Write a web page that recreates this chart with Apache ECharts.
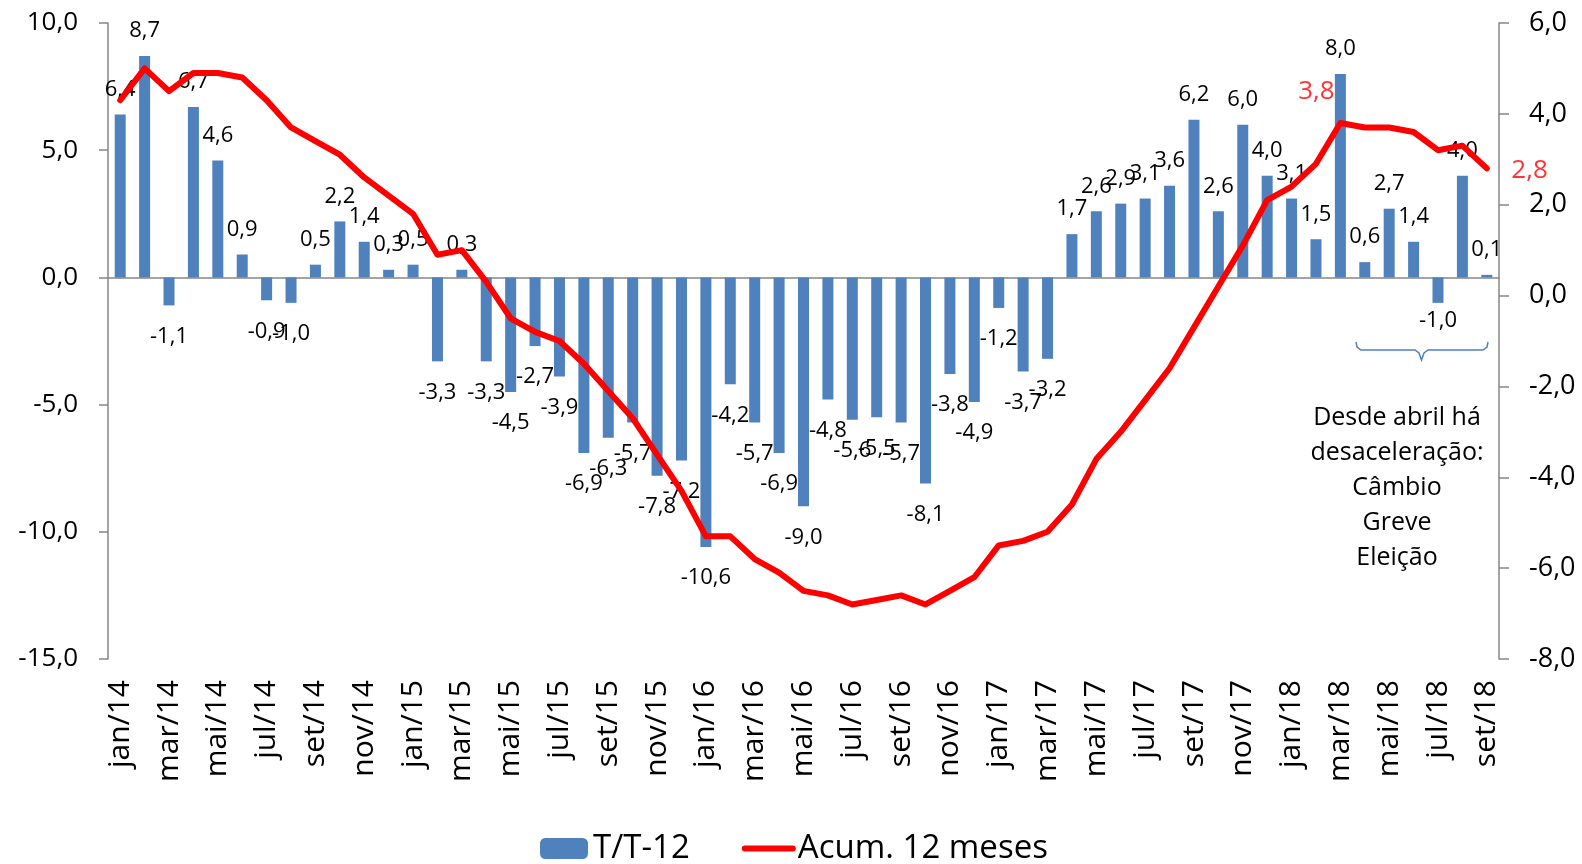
<!DOCTYPE html>
<html>
<head>
<meta charset="utf-8">
<title>T/T-12 e Acum. 12 meses</title>
<script src="https://cdn.jsdelivr.net/npm/echarts@6/dist/echarts.min.js"></script>
<style>
  html, body { margin: 0; padding: 0; background: #fff; }
  #chart { width: 1582px; height: 864px; }
</style>
</head>
<body>
<div id="chart"></div>
<script>
// --- dados ---
const meses = [
  'jan/14', 'fev/14', 'mar/14', 'abr/14', 'mai/14', 'jun/14', 'jul/14', 'ago/14', 'set/14', 'out/14', 'nov/14', 'dez/14',
  'jan/15', 'fev/15', 'mar/15', 'abr/15', 'mai/15', 'jun/15', 'jul/15', 'ago/15', 'set/15', 'out/15', 'nov/15', 'dez/15',
  'jan/16', 'fev/16', 'mar/16', 'abr/16', 'mai/16', 'jun/16', 'jul/16', 'ago/16', 'set/16', 'out/16', 'nov/16', 'dez/16',
  'jan/17', 'fev/17', 'mar/17', 'abr/17', 'mai/17', 'jun/17', 'jul/17', 'ago/17', 'set/17', 'out/17', 'nov/17', 'dez/17',
  'jan/18', 'fev/18', 'mar/18', 'abr/18', 'mai/18', 'jun/18', 'jul/18', 'ago/18', 'set/18'
]

// variação contra o mesmo mês do ano anterior (barras, eixo esquerdo)
const tt12 = [
  6.4, 8.7, -1.1, 6.7, 4.6, 0.9, -0.9, -1.0, 0.5, 2.2, 1.4, 0.3,
  0.5, -3.3, 0.3, -3.3, -4.5, -2.7, -3.9, -6.9, -6.3, -5.7, -7.8, -7.2,
  -10.6, -4.2, -5.7, -6.9, -9.0, -4.8, -5.6, -5.5, -5.7, -8.1, -3.8, -4.9,
  -1.2, -3.7, -3.2, 1.7, 2.6, 2.9, 3.1, 3.6, 6.2, 2.6, 6.0, 4.0,
  3.1, 1.5, 8.0, 0.6, 2.7, 1.4, -1.0, 4.0, 0.1
]

// acumulado em 12 meses (linha, eixo direito)
const acum12 = [
  4.3, 5.0, 4.5, 4.9, 4.9, 4.8, 4.3, 3.7, 3.4, 3.1, 2.6, 2.2,
  1.8, 0.9, 1.0, 0.3, -0.5, -0.8, -1.0, -1.5, -2.1, -2.7, -3.5, -4.3,
  -5.3, -5.3, -5.8, -6.1, -6.5, -6.6, -6.8, -6.7, -6.6, -6.8, -6.5, -6.2,
  -5.5, -5.4, -5.2, -4.6, -3.6, -3.0, -2.3, -1.6, -0.7, 0.2, 1.1, 2.1,
  2.4, 2.9, 3.8, 3.7, 3.7, 3.6, 3.2, 3.3, 2.8
]

// pontos da linha que recebem rótulo vermelho
const rotulosAcum = ['mar/18', 'set/18']

const notaTexto = ['Desde abril há', 'desaceleração:', 'Câmbio', 'Greve', 'Eleição']

const FONT = '"Open Sans", "Noto Sans", sans-serif'
const AZUL = '#4f81bd'
const CINZA = '#868686'

const fmt = (v) => v.toFixed(1).replace('.', ',')

const chart = echarts.init(document.getElementById('chart'))

// positivos com rótulo acima, negativos abaixo
// (jul/18 fica mais perto da barra para não cobrir a chave)
const barData = tt12.map((v, i) => ({
  value: v,
  label: v >= 0
    ? { position: 'top', distance: 14 }
    : { position: 'bottom', distance: meses[i] === 'jul/18' ? 7 : 20 }
}))

const labelData = acum12.map((v, i) => {
  const idx = rotulosAcum.indexOf(meses[i])
  if (idx < 0) return '-'
  // primeiro rótulo acima/esquerda, último à direita
  return idx === 0
    ? { value: v, label: { position: 'top', distance: 18, offset: [-24, 0] } }
    : { value: v, label: { position: 'right', distance: 24, offset: [0, 2] } }
})

chart.setOption({
  animation: false,
  textStyle: { fontFamily: FONT },
  grid: { left: 108, right: 83, top: 23, bottom: 205, containLabel: false },
  legend: {
    data: [
      { name: 'T/T-12' },
      // sem o círculo no ícone da linha
      {
        name: 'Acum. 12 meses',
        itemStyle: { opacity: 0 },
        lineStyle: { width: 6, cap: 'round', color: '#ff0000' }
      }
    ],
    left: 535,
    top: 827,
    itemWidth: 48,
    itemHeight: 21,
    itemGap: 52,
    textStyle: { fontSize: 33, color: '#000', fontFamily: FONT }
  },
  xAxis: [
    {
      // linha do eixo no zero com marcas a cada 2 meses
      type: 'category',
      data: meses,
      axisLine: { onZero: true, onZeroAxisIndex: 0, lineStyle: { color: CINZA, width: 1.5 } },
      axisTick: { interval: 1, length: 9, lineStyle: { color: CINZA, width: 1.5 } },
      axisLabel: { show: false }
    },
    {
      // rótulos dos meses embaixo do gráfico
      type: 'category',
      data: meses,
      position: 'bottom',
      axisLine: { show: false, onZero: false },
      axisTick: { show: false },
      axisLabel: {
        interval: 1,
        rotate: 90,
        margin: 21,
        fontSize: 30,
        color: '#000',
        fontFamily: FONT
      }
    }
  ],
  yAxis: [
    {
      type: 'value',
      min: -15,
      max: 10,
      interval: 5,
      splitLine: { show: false },
      axisLine: { show: true, lineStyle: { color: CINZA, width: 1.5 } },
      axisTick: { show: true, length: 9, lineStyle: { color: CINZA, width: 1.5 } },
      axisLabel: { formatter: fmt, fontSize: 26, color: '#000', margin: 30, fontFamily: FONT }
    },
    {
      type: 'value',
      position: 'right',
      min: -8,
      max: 6,
      interval: 2,
      splitLine: { show: false },
      axisLine: { show: true, lineStyle: { color: CINZA, width: 1.5 } },
      axisTick: { show: true, length: 10, lineStyle: { color: CINZA, width: 1.5 } },
      axisLabel: { formatter: fmt, fontSize: 27, color: '#000', margin: 30, fontFamily: FONT }
    }
  ],
  series: [
    {
      name: 'T/T-12',
      type: 'bar',
      xAxisIndex: 0,
      yAxisIndex: 0,
      data: barData,
      barWidth: 11,
      itemStyle: { color: AZUL },
      label: {
        show: true,
        fontSize: 22,
        color: '#000',
        fontFamily: FONT,
        formatter: (p) => fmt(p.value)
      },
      z: 2
    },
    {
      name: 'Acum. 12 meses',
      type: 'line',
      xAxisIndex: 0,
      yAxisIndex: 1,
      data: acum12,
      symbol: 'none',
      lineStyle: { color: '#ff0000', width: 6, cap: 'round', join: 'round' },
      itemStyle: { color: '#ff0000' },
      z: 3
    },
    {
      // só para os rótulos vermelhos da linha
      name: 'rotulos',
      type: 'scatter',
      xAxisIndex: 0,
      yAxisIndex: 1,
      data: labelData,
      symbolSize: 1,
      itemStyle: { color: '#ff0000' },
      label: {
        show: true,
        fontSize: 26,
        color: '#ff0000',
        fontFamily: FONT,
        formatter: (p) => fmt(p.value)
      },
      z: 4
    }
  ],
  graphic: [
    {
      // chave sobre abr/18 a set/18
      type: 'polyline',
      shape: {
        points: [
          [1356, 342], [1357, 347], [1361, 350], [1415, 350], [1419, 353], [1421.5, 360],
          [1424, 353], [1428, 350], [1483, 350], [1487, 347], [1488, 342]
        ]
      },
      style: { stroke: AZUL, lineWidth: 1.5, fill: null }
    },
    {
      type: 'text',
      x: 1397,
      y: 400,
      style: {
        text: notaTexto.join('\n'),
        align: 'center',
        verticalAlign: 'top',
        lineHeight: 35,
        fontSize: 25,
        fontFamily: FONT,
        fill: '#000'
      }
    }
  ]
})

window.addEventListener('resize', () => chart.resize())
</script>
</body>
</html>
